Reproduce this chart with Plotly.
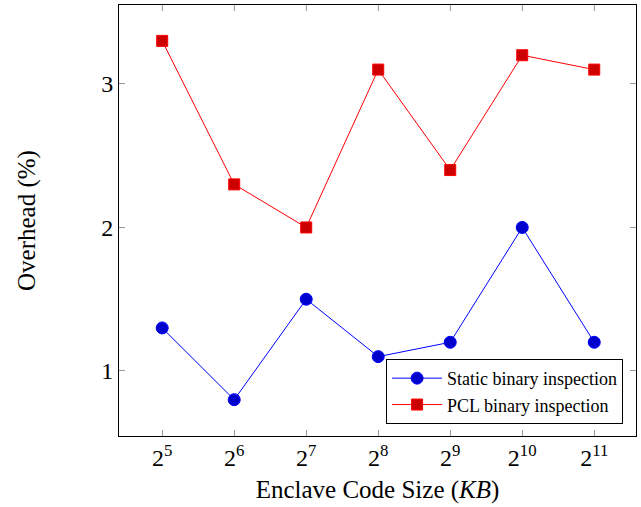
import math
import plotly.graph_objects as go

sizes_kb = [32, 64, 128, 256, 512, 1024, 2048]
tick_labels = ["2<sup>5</sup>", "2<sup>6</sup>", "2<sup>7</sup>", "2<sup>8</sup>",
               "2<sup>9</sup>", "2<sup>10</sup>", "2<sup>11</sup>"]
static_overhead = [1.3, 0.8, 1.5, 1.1, 1.2, 2.0, 1.2]
pcl_overhead = [3.3, 2.3, 2.0, 3.1, 2.4, 3.2, 3.1]

fig = go.Figure()
fig.add_trace(go.Scatter(
    x=sizes_kb, y=static_overhead, mode="lines+markers",
    name="Static binary inspection",
    line=dict(color="#0000ff", width=1),
    marker=dict(symbol="circle", size=12, color="#0000cc", line=dict(color="#0000ff", width=1)),
))
fig.add_trace(go.Scatter(
    x=sizes_kb, y=pcl_overhead, mode="lines+markers",
    name="PCL binary inspection",
    line=dict(color="#ff0000", width=1),
    marker=dict(symbol="square", size=11, color="#cc0000", line=dict(color="#ff0000", width=1)),
))

font_family = "Liberation Serif"
fig.update_layout(
    width=641, height=507,
    margin=dict(l=119, r=5, t=5, b=71),
    plot_bgcolor="white", paper_bgcolor="white",
    font=dict(family=font_family, color="black", size=24),
    showlegend=True,
    legend=dict(
        x=0.975, y=0.028, xanchor="right", yanchor="bottom",
        bgcolor="white", bordercolor="black", borderwidth=1,
        font=dict(family=font_family, size=18, color="black"),
        tracegroupgap=0, itemwidth=50,
    ),
    xaxis=dict(
        type="log",
        range=[math.log10(2 ** 4.4), math.log10(2 ** 11.58)],
        tickvals=sizes_kb, ticktext=tick_labels,
        ticks="inside", ticklen=6, tickcolor="#999999", tickwidth=1,
        showline=True, linecolor="black", linewidth=1, mirror="ticks",
        showgrid=False, zeroline=False,
        title=dict(text="Enclave Code Size (<i>KB</i>)", font=dict(size=25), standoff=10),
        tickfont=dict(size=24),
    ),
    yaxis=dict(
        range=[0.547, 3.55],
        tickvals=[1, 2, 3], ticktext=["1", "2", "3"],
        ticks="inside", ticklen=6, tickcolor="#999999", tickwidth=1,
        showline=True, linecolor="black", linewidth=1, mirror="ticks",
        showgrid=False, zeroline=False,
        title=dict(text="Overhead (%)", font=dict(size=25), standoff=58),
        tickfont=dict(size=24),
    ),
)

fig.write_html("out.html", config={"displayModeBar": False},
               post_script="document.body.style.margin='0';")
